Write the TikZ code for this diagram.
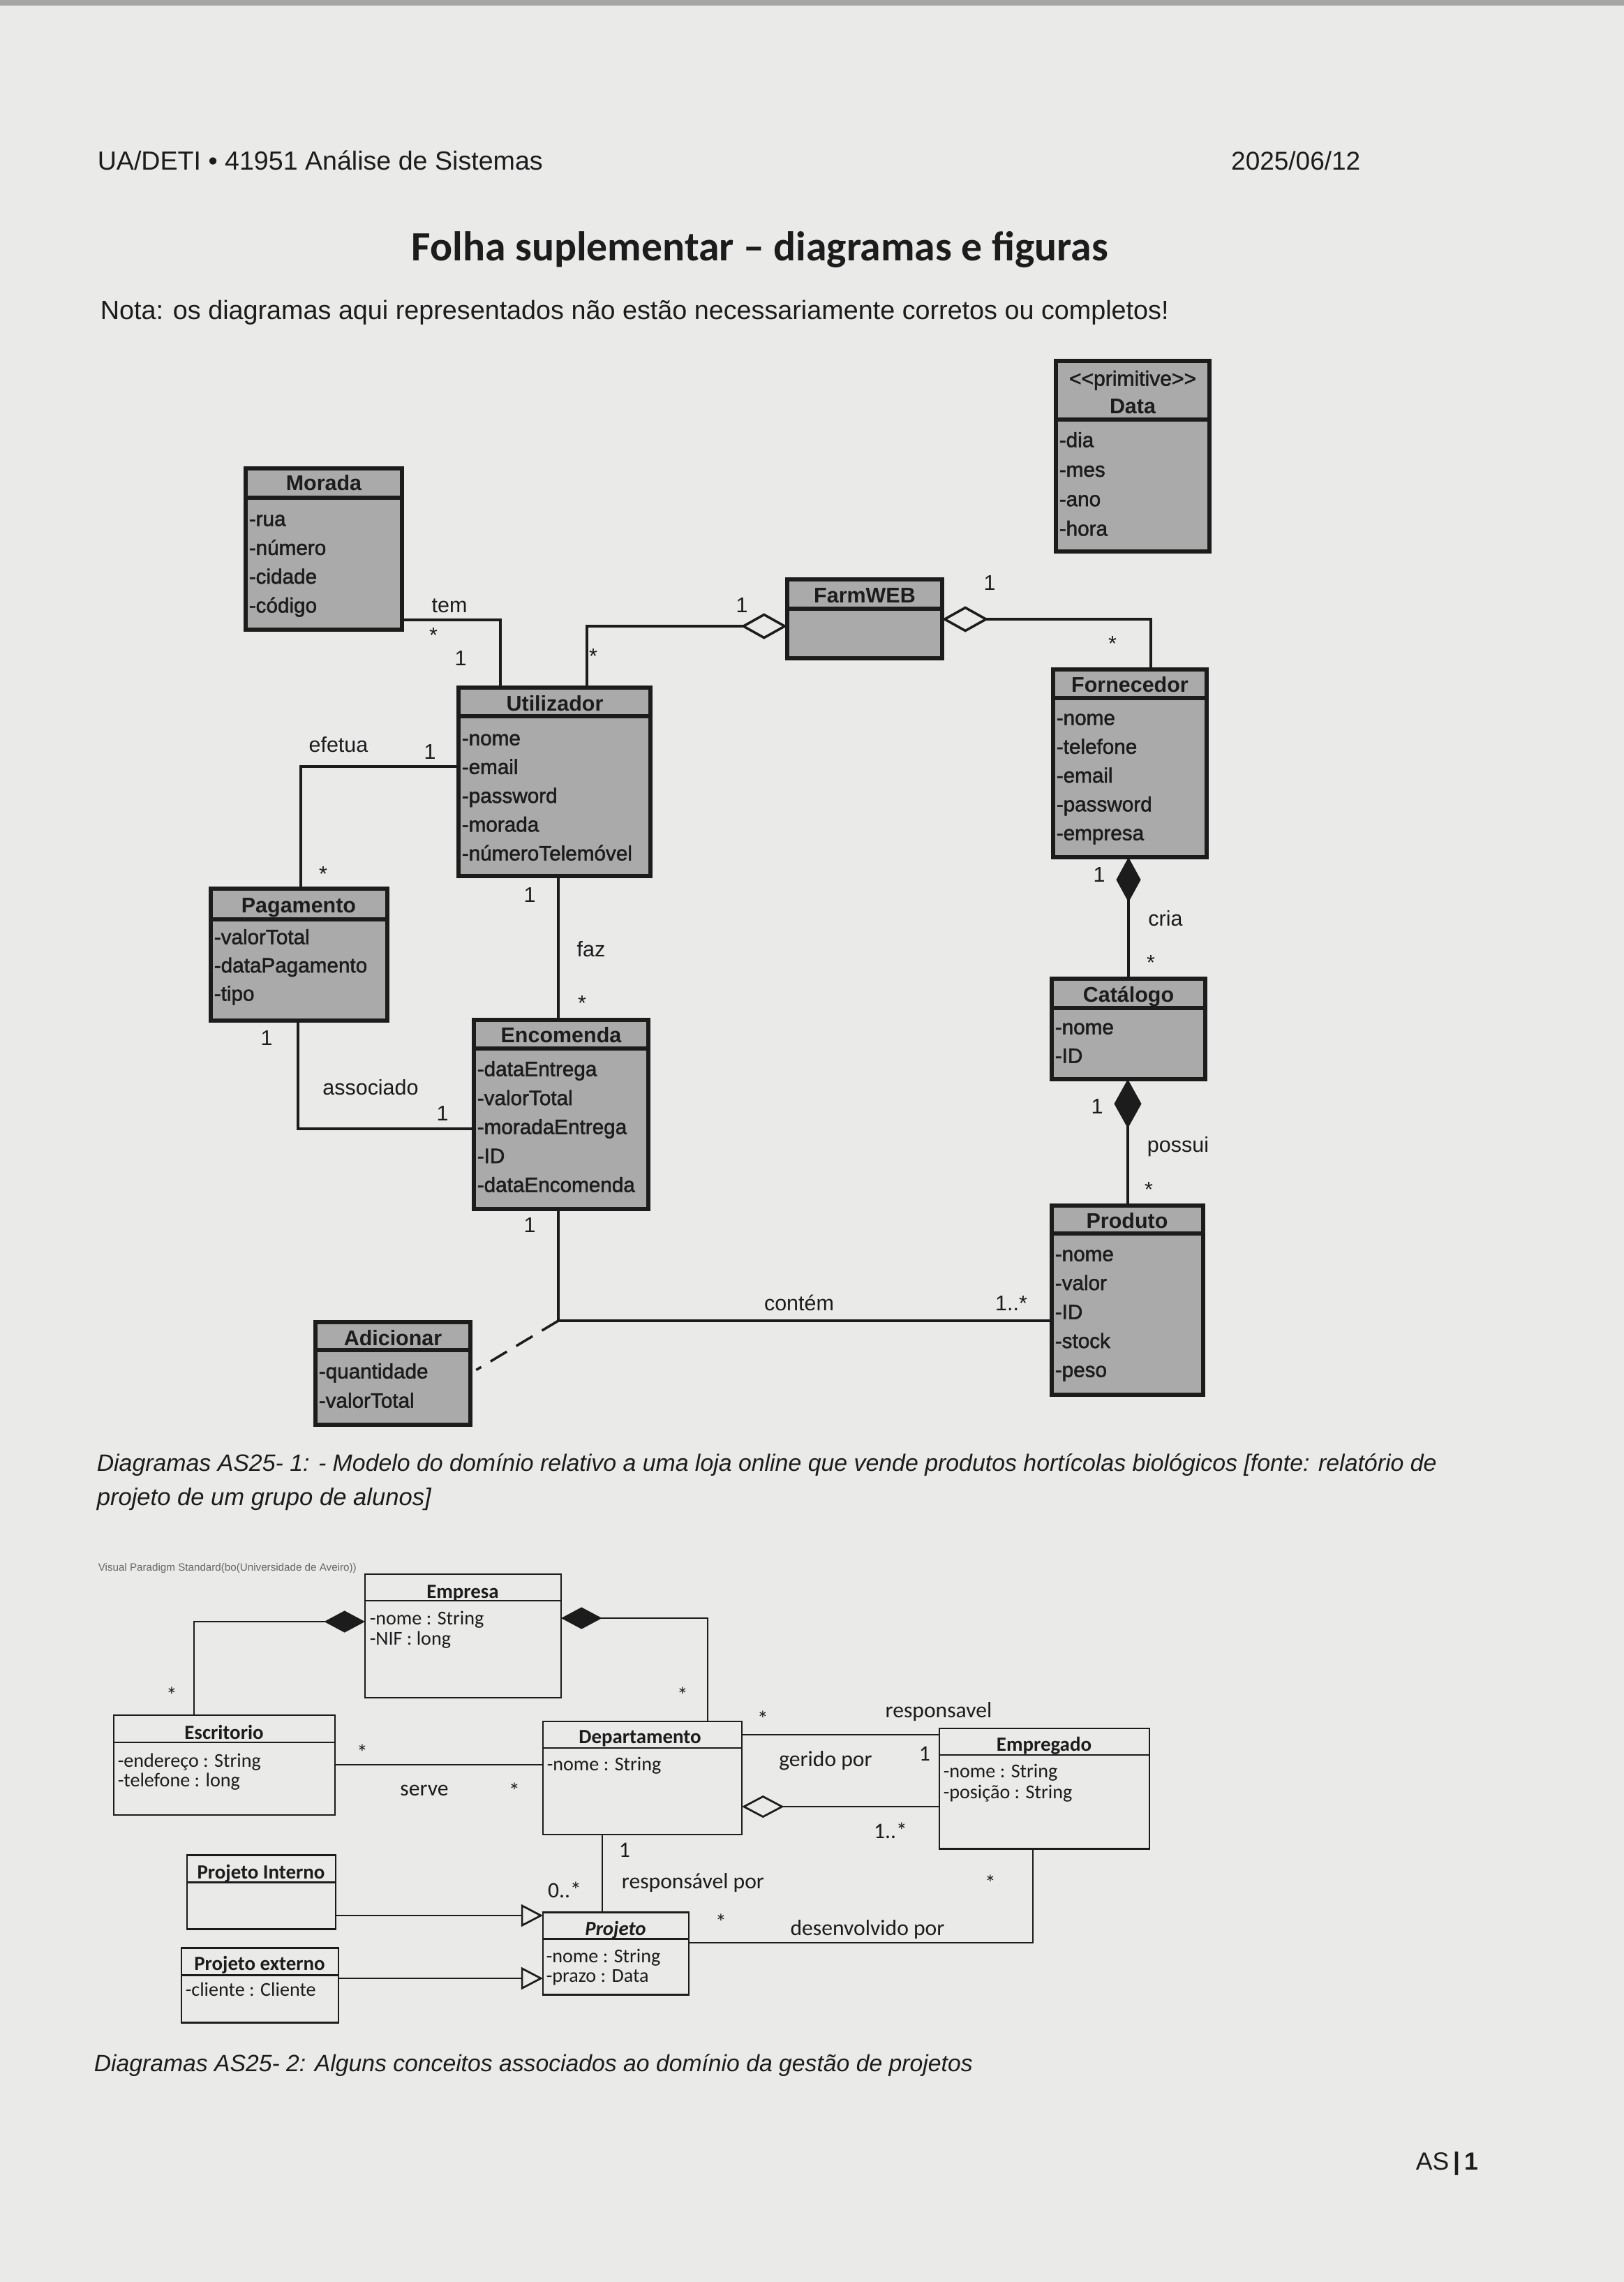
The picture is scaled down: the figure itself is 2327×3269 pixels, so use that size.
\documentclass[tikz,border=0pt]{standalone}
\usepackage{fontspec}
\usepackage{graphicx}
\setmainfont{Liberation Sans}
\newfontfamily\calfont{Carlito}
\newfontfamily\attrfont[FakeBold=1.6]{Liberation Sans}
\usetikzlibrary{arrows.meta,fit}
\newlength\pxu
\setlength\pxu{0.09mm}
% scale a line of text to a given width (in drawing units)
\newcommand\fitw[2]{\resizebox{#1\pxu}{!}{#2}}
% class box: style, name, x1, y1, x2, y2, y of the separator
\newcommand\classbox[7]{%
  \node[#1, fit={(#3,#4) (#5,#6)}] (#2) {};
  \draw[#1 sep] (#3,#7) -- (#5,#7);}
% attribute list: style, prefix, x, first y, step, items
\newcommand\attrs[6]{%
  \foreach \t [count=\i] in {#6}
    \node[#1] (#2-\i) at (#3,{#4+#5*(\i-1)}) {\t};}
\definecolor{paper}{RGB}{234,234,233}
\definecolor{classgray}{RGB}{170,170,170}
\definecolor{ink}{RGB}{28,28,28}

\begin{document}
\begin{tikzpicture}[x=0.09mm, y=-0.09mm,
  txt/.style={inner sep=0pt, text=ink},
  cls1/.style={draw=ink, line width=1.3pt, fill=classgray, inner sep=0pt, outer sep=0pt},
  cls1 sep/.style={draw=ink, line width=1.3pt},
  cls2/.style={draw=ink, line width=0.75pt, inner sep=0pt, outer sep=0pt},
  cls2 sep/.style={draw=ink, line width=0.75pt},
  ttl1/.style={txt, font=\fontsize{7.8}{9}\selectfont\bfseries, anchor=base, yshift=-2.7pt},
  att1/.style={txt, font=\attrfont\fontsize{7.6}{9}\selectfont, anchor=base west, yshift=-2.7pt},
  lab1/.style={txt, font=\fontsize{7.8}{9}\selectfont, anchor=base, yshift=-2.8pt},
  star1/.style={txt, font=\fontsize{7.8}{9}\selectfont, anchor=base, yshift=-4.5pt},
  ttl2/.style={txt, font=\calfont\fontsize{7.4}{9}\selectfont\bfseries, anchor=base, yshift=-2.4pt},
  att2/.style={txt, font=\calfont\fontsize{7.2}{9}\selectfont, anchor=base west, yshift=-2.4pt},
  lab2/.style={txt, font=\calfont\fontsize{8.1}{9}\selectfont, anchor=base, yshift=-2.6pt},
  star2/.style={txt, font=\calfont\fontsize{8.1}{9}\selectfont, anchor=base, yshift=-4.3pt},
  assoc1/.style={draw=ink, line width=0.9pt},
  assoc2/.style={draw=ink, line width=0.7pt},
  line/.style={txt, anchor=base west}
]
% sheet
\fill[paper] (0,0) rectangle (2327,3269);
\fill[black!35] (0,0) rectangle (2327,8);
\useasboundingbox (0,0) rectangle (2327,3269);

% page texts
\node[line] (hdr) at (139,243) {\fitw{638}{UA/DETI • 41951 Análise de Sistemas}};
\node[txt, anchor=base east] (date) at (1950,243) {\fitw{185}{2025/06/12}};
\node[line] (title) at (589,373) {\fitw{998}{\calfont\bfseries Folha suplementar – diagramas e figuras}};
\node[line] (nota) at (143,457) {\fitw{1531}{Nota: os diagramas aqui representados não estão necessariamente corretos ou completos!}};

% ---------------- domain model of the online shop ----------------
\classbox{cls1}{morada}{352}{671}{576}{902}{713}
\classbox{cls1}{data}{1513}{517}{1733}{790}{601}
\classbox{cls1}{farmweb}{1128}{830}{1350}{943}{872}
\classbox{cls1}{utilizador}{657}{985}{932}{1255}{1026}
\classbox{cls1}{pagamento}{302}{1273}{555}{1462}{1317}
\classbox{cls1}{encomenda}{679}{1461}{929}{1732}{1502}
\classbox{cls1}{adicionar}{452}{1894}{674}{2041}{1934}
\classbox{cls1}{fornecedor}{1509}{959}{1729}{1228}{1000}
\classbox{cls1}{catalogo}{1507}{1402}{1727}{1546}{1444}
\classbox{cls1}{produto}{1507}{1727}{1724}{1998}{1767}

\node[ttl1] (morada-t) at (464,692) {Morada};
\node[txt, font=\attrfont\fontsize{7.7}{9}\selectfont, anchor=base, yshift=-2.7pt] (data-s) at (1623,542) {<\kern0pt<primitive>\kern0pt>};
\node[ttl1] (data-t) at (1623,582) {Data};
\node[ttl1] (farmweb-t) at (1239,853) {FarmWEB};
\node[ttl1] (utilizador-t) at (795,1008) {Utilizador};
\node[ttl1] (pagamento-t) at (428,1297) {Pagamento};
\node[ttl1] (encomenda-t) at (804,1483) {Encomenda};
\node[ttl1] (adicionar-t) at (563,1917) {Adicionar};
\node[ttl1] (fornecedor-t) at (1619,981) {Fornecedor};
\node[ttl1] (catalogo-t) at (1617,1425) {Catálogo};
\node[ttl1] (produto-t) at (1615,1749) {Produto};

\attrs{att1}{ma}{356}{743}{41.3}{-rua,-número,-cidade,-código}
\attrs{att1}{da}{1517}{630}{42.3}{-dia,-mes,-ano,-hora}
\attrs{att1}{ua}{661}{1057}{41.25}{-nome,-email,-password,-morada,-númeroTelemóvel}
\attrs{att1}{pa}{306}{1342}{40.5}{-valorTotal,-dataPagamento,-tipo}
\attrs{att1}{ea}{683}{1531}{41.5}{-dataEntrega,-valorTotal,-moradaEntrega,-ID,-dataEncomenda}
\attrs{att1}{aa}{456}{1964}{42}{-quantidade,-valorTotal}
\attrs{att1}{fa}{1513}{1028}{41.25}{-nome,-telefone,-email,-password,-empresa}
\attrs{att1}{ca}{1511}{1471}{41}{-nome,-ID}
\attrs{att1}{pr}{1511}{1796}{41.5}{-nome,-valor,-ID,-stock,-peso}

% associations
\coordinate (k-tem) at (717,888);
\draw[assoc1] (morada.east |- k-tem) -- (k-tem) -- (utilizador.north -| k-tem);
\coordinate (k-fw1) at (841,897);
\draw[assoc1, {Diamond[open, length=17pt, width=9.5pt]}-] (farmweb.west |- k-fw1) -- (k-fw1) -- (utilizador.north -| k-fw1);
\coordinate (k-fw2) at (1649,887);
\draw[assoc1, {Diamond[open, length=17pt, width=9.5pt]}-] (farmweb.east |- k-fw2) -- (k-fw2) -- (fornecedor.north -| k-fw2);
\coordinate (k-ef) at (431,1098);
\draw[assoc1] (utilizador.west |- k-ef) -- (k-ef) -- (pagamento.north -| k-ef);
\coordinate (k-faz) at (800,1300);
\draw[assoc1] (utilizador.south -| k-faz) -- (encomenda.north -| k-faz);
\coordinate (k-as) at (427,1617);
\draw[assoc1] (pagamento.south -| k-as) -- (k-as) -- (encomenda.west |- k-as);
\coordinate (k-ct) at (800,1892);
\draw[assoc1] (encomenda.south -| k-ct) -- (k-ct) -- (produto.west |- k-ct);
\draw[assoc1, dash pattern=on 7pt off 4pt, shorten >=2.5pt] (k-ct) -- (adicionar.east);
\coordinate (k-cr) at (1617,1300);
\draw[assoc1, {Diamond[length=16.5pt, width=9pt]}-] (fornecedor.south -| k-cr) -- (catalogo.north -| k-cr);
\coordinate (k-po) at (1616,1600);
\draw[assoc1, {Diamond[length=18pt, width=10pt]}-] (catalogo.south -| k-po) -- (produto.north -| k-po);

% association labels and multiplicities
\node[lab1] (l-tem) at (644,867) {tem};
\node[star1] (m-tem1) at (621,903) {*};
\node[lab1] (m-tem2) at (660,943) {1};
\node[lab1] (m-fw1) at (1063,867) {1};
\node[star1] (m-fw1b) at (850,933) {*};
\node[lab1] (m-fw2) at (1418,835) {1};
\node[star1] (m-fw2b) at (1594,915) {*};
\node[lab1] (l-ef) at (485,1067) {efetua};
\node[lab1] (m-ef1) at (616,1077) {1};
\node[star1] (m-ef2) at (463,1245) {*};
\node[lab1] (m-faz1) at (759,1282) {1};
\node[lab1] (l-faz) at (847,1360) {faz};
\node[star1] (m-faz2) at (834,1430) {*};
\node[lab1] (m-as1) at (382,1487) {1};
\node[lab1] (l-as) at (531,1558) {associado};
\node[lab1] (m-as2) at (634,1595) {1};
\node[lab1] (m-ct1) at (759,1755) {1};
\node[lab1] (l-ct) at (1145,1867) {contém};
\node[lab1] (m-ct2) at (1449,1867) {1..*};
\node[lab1] (m-cr1) at (1575,1253) {1};
\node[lab1] (l-cr) at (1670,1316) {cria};
\node[star1] (m-cr2) at (1649,1372) {*};
\node[lab1] (m-po1) at (1572,1585) {1};
\node[lab1] (l-po) at (1688,1640) {possui};
\node[star1] (m-po2) at (1646,1697) {*};

\node[line] (cap1a) at (138,2107) {\fitw{1920}{\itshape Diagramas AS25- 1: - Modelo do domínio relativo a uma loja online que vende produtos hortícolas biológicos [fonte: relatório de}};
\node[line] (cap1b) at (138,2156) {\fitw{479}{\itshape projeto de um grupo de alunos]}};

% ---------------- project management concepts ----------------
\node[txt, anchor=base west, text=black!60] (vp) at (140,2250) {\fitw{370}{Visual Paradigm Standard(bo(Universidade de Aveiro))}};

\classbox{cls2}{empresa}{523}{2255}{804}{2432}{2293}
\classbox{cls2}{escritorio}{163}{2457}{480}{2600}{2496}
\classbox{cls2}{departamento}{778}{2466}{1063}{2628}{2504}
\classbox{cls2}{empregado}{1346}{2476}{1647}{2648}{2514}
\classbox{cls2}{projeto}{778}{2739}{987}{2857}{2777}
\classbox{cls2}{projint}{268}{2657}{481}{2763}{2696}
\classbox{cls2}{projext}{260}{2790}{485}{2897}{2829}

\node[ttl2] (empresa-t) at (663,2280) {Empresa};
\node[ttl2] (escritorio-t) at (321,2482) {Escritorio};
\node[ttl2] (departamento-t) at (917,2488) {Departamento};
\node[ttl2] (empregado-t) at (1496,2499) {Empregado};
\node[ttl2, font=\calfont\fontsize{7.4}{9}\selectfont\bfseries\itshape] (projeto-t) at (882,2763) {Projeto};
\node[ttl2] (projint-t) at (374,2682) {Projeto Interno};
\node[ttl2] (projext-t) at (372,2813) {Projeto externo};

\attrs{att2}{emp}{529}{2318}{29}{-nome : String,-NIF : long}
\attrs{att2}{esc}{168}{2522}{28}{-endereço : String,-telefone : long}
\attrs{att2}{dep}{783}{2527}{29}{-nome : String}
\attrs{att2}{egd}{1351}{2537}{30}{-nome : String,-posição : String}
\attrs{att2}{prj}{782}{2802}{28}{-nome : String,-prazo : Data}
\attrs{att2}{pex}{265}{2850}{28}{-cliente : Cliente}

\coordinate (k-esc) at (278,2323);
\draw[assoc2, {Diamond[length=15pt, width=8pt]}-] (empresa.west |- k-esc) -- (k-esc) -- (escritorio.north -| k-esc);
\coordinate (k-dep) at (1014,2318);
\draw[assoc2, {Diamond[length=15pt, width=8pt]}-] (empresa.east |- k-dep) -- (k-dep) -- (departamento.north -| k-dep);
\coordinate (k-sv) at (600,2528);
\draw[assoc2] (escritorio.east |- k-sv) -- (departamento.west |- k-sv);
\coordinate (k-rs) at (1200,2485);
\draw[assoc2] (departamento.east |- k-rs) -- (empregado.west |- k-rs);
\coordinate (k-gp) at (1200,2588);
\draw[assoc2, {Diamond[open, length=15.5pt, width=8.2pt]}-] (departamento.east |- k-gp) -- (empregado.west |- k-gp);
\coordinate (k-rp) at (863,2700);
\draw[assoc2] (departamento.south -| k-rp) -- (projeto.north -| k-rp);
\coordinate (k-dv) at (1480,2783);
\draw[assoc2] (projeto.east |- k-dv) -- (k-dv) -- (empregado.south -| k-dv);
\coordinate (k-g1) at (600,2744);
\draw[assoc2, -{Triangle[open, length=8pt, width=8.2pt]}] (projint.east |- k-g1) -- (projeto.west |- k-g1);
\coordinate (k-g2) at (600,2834);
\draw[assoc2, -{Triangle[open, length=8pt, width=8.2pt]}] (projext.east |- k-g2) -- (projeto.west |- k-g2);

\node[star2] (n-esc) at (246,2423) {*};
\node[star2] (n-dep) at (978,2423) {*};
\node[star2] (n-sv1) at (519,2505) {*};
\node[lab2] (l-sv) at (608,2562) {serve};
\node[star2] (n-sv2) at (737,2560) {*};
\node[star2] (n-rs1) at (1093,2457) {*};
\node[lab2] (l-rs) at (1345,2450) {responsavel};
\node[lab2] (l-gp) at (1183,2520) {gerido por};
\node[lab2] (n-gp1) at (1325,2512) {1};
\node[lab2] (n-gp2) at (1276,2623) {1..*};
\node[lab2] (n-rp1) at (895,2650) {1};
\node[lab2] (l-rp) at (993,2695) {responsável por};
\node[lab2] (n-rp2) at (809,2708) {0..*};
\node[star2] (n-dv1) at (1033,2748) {*};
\node[lab2] (l-dv) at (1243,2762) {desenvolvido por};
\node[star2] (n-dv2) at (1419,2692) {*};

\node[line] (cap2) at (134,2967) {\fitw{1259}{\itshape Diagramas AS25- 2: Alguns conceitos associados ao domínio da gestão de projetos}};
\node[line] (pageno) at (2028,3108) {\fitw{89}{AS\,\textbf{|}\,\textbf{1}}};
\end{tikzpicture}
\end{document}
